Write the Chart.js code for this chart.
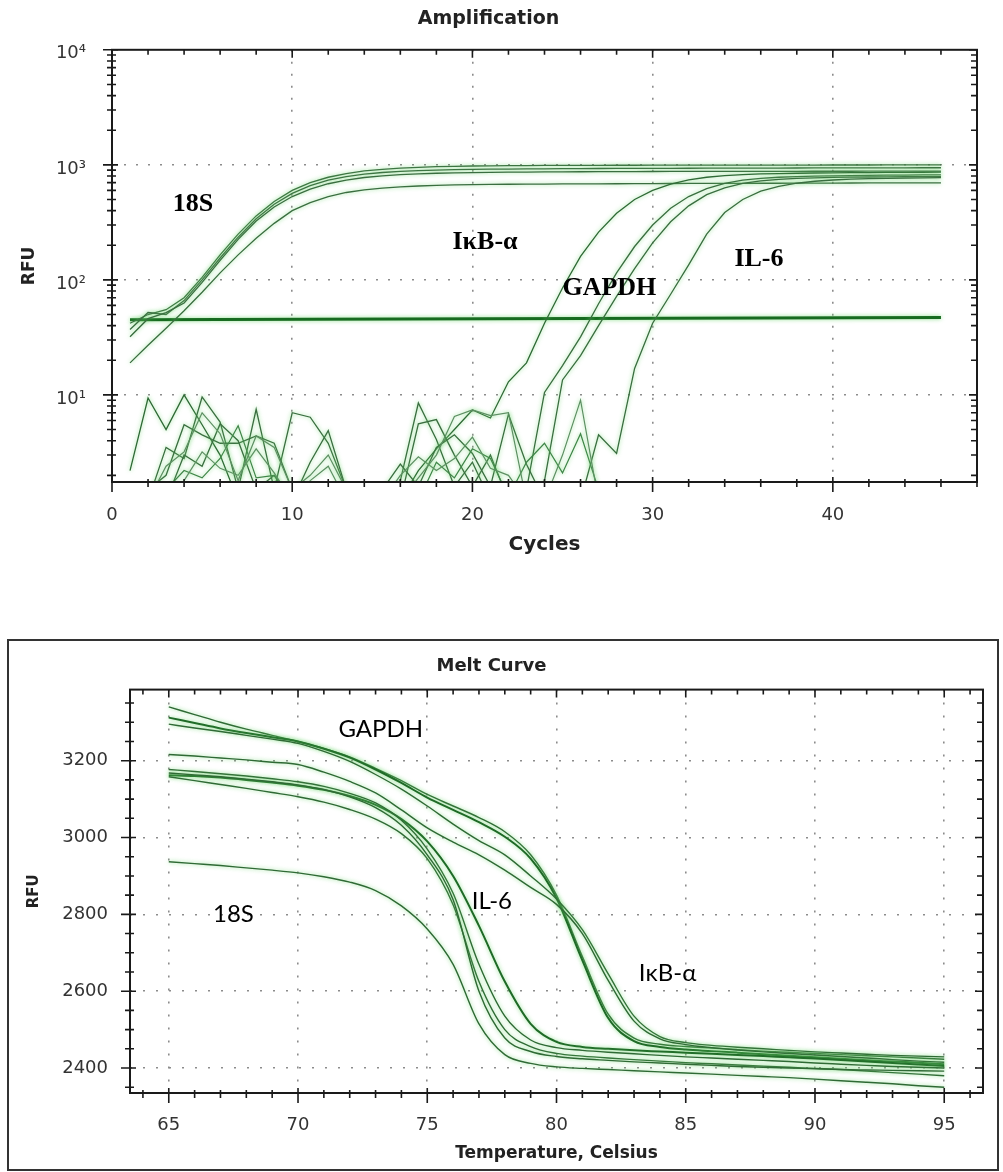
<!DOCTYPE html>
<html>
<head>
<meta charset="utf-8">
<script src="https://cdn.jsdelivr.net/npm/chart.js@4.4.0/dist/chart.umd.min.js"></script>
<style>
  body { margin: 0; background: #fff; }
  .wrap { position: relative; width: 1003px; height: 1172px; }
  #ampChart { position: absolute; left: 0; top: 0; }
  #meltBox { position: absolute; left: 7px; top: 639px; width: 992px; height: 532px; border: 2px solid #333; box-sizing: border-box; }
  #meltChart { position: absolute; left: 0; top: 640px; }
</style>
</head>
<body>
<div class="wrap">
  <canvas id="ampChart" width="1003" height="580"></canvas>
  <div id="meltBox"></div>
  <canvas id="meltChart" width="1003" height="532"></canvas>
</div>
<script>
// ---- Amplification data (RFU per cycle) ----
const cycles = [1, 2, 3, 4, 5, 6, 7, 8, 9, 10, 11, 12, 13, 14, 15, 16, 17, 18, 19, 20, 21, 22, 23,
    24, 25, 26, 27, 28, 29, 30, 31, 32, 33, 34, 35, 36, 37, 38, 39, 40, 41, 42, 43, 44, 45, 46];

// 18S wells
const s18a = [42, 50, 55, 70, 105, 165, 250, 360, 480, 600, 700, 780, 840, 885, 915, 937, 952, 963, 971, 977,
    981, 984, 986, 988, 989, 990, 991, 992, 992, 993, 993, 994, 994, 995, 995, 995, 996, 996, 996, 997,
    997, 997, 998, 998, 998, 999];
const s18b = [37, 52, 50, 66, 100, 155, 235, 340, 455, 565, 660, 735, 790, 830, 858, 877, 890, 900, 907, 912,
    916, 919, 922, 924, 926, 928, 929, 930, 931, 932, 933, 934, 935, 936, 937, 938, 938, 939, 940, 940,
    941, 941, 942, 942, 943, 943];
const s18c = [32, 46, 52, 63, 95, 148, 225, 325, 430, 530, 615, 685, 738, 776, 803, 822, 835, 845, 852, 857,
    861, 864, 866, 868, 870, 871, 872, 873, 874, 875, 876, 876, 877, 877, 878, 878, 879, 879, 880, 880,
    880, 881, 881, 881, 882, 882];
const s18d = [19, 27, 38, 54, 78, 115, 165, 230, 310, 400, 470, 530, 575, 605, 628, 644, 655, 663, 669, 673,
    676, 678, 680, 681, 682, 683, 684, 685, 686, 687, 688, 689, 690, 690, 691, 692, 692, 693, 694, 694,
    695, 696, 696, 697, 698, 698];

// IkB-a, GAPDH, IL-6 wells (baseline noise then rise)
const ikba = [2.2, 9.4, 5.0, 10, 5.5, 3.0, 1.2, 1.2, 1.2, 1.2, 1.2, 1.2, 1.2, 1.2,
    1.2, 1.2, 2.2, 3.4, 5.0, 7.4, 6.3, 13, 19, 42, 85, 160, 260, 380,
    500, 600, 680, 740, 780, 805, 822, 833, 840, 845, 849, 852, 855, 857, 859, 861, 862, 863];
const gapdhA = [1.2, 1.2, 3.5, 2.8, 9.6, 5.8, 1.5, 7.5, 1.5, 7.0, 6.4, 3.8, 1.5, 1.2,
    1.2, 1.8, 8.5, 4.1, 1.6, 2.6, 1.2, 1.2, 1.5, 10.5, 18, 32, 62, 115,
    195, 300, 420, 530, 620, 690, 735, 763, 780, 791, 798, 803, 807, 810, 813, 815, 817, 818];
const gapdhB = [1.2, 1.5, 2.0, 5.5, 4.5, 3.8, 3.8, 4.4, 3.8, 1.5, 1.2, 1.2, 1.2, 1.2,
    1.2, 1.2, 5.6, 6.1, 3.0, 1.6, 3.0, 1.2, 1.2, 1.8, 13.5, 22, 40, 72,
    125, 210, 320, 440, 550, 630, 690, 725, 748, 762, 771, 777, 781, 784, 786, 788, 789, 790];
const il6 = [1.2, 1.2, 1.2, 3.0, 2.4, 5.6, 4.0, 1.5, 2.0, 1.2, 2.6, 4.9, 1.5, 1.2,
    1.5, 2.5, 1.6, 3.5, 4.5, 3.1, 1.6, 6.8, 2.5, 1.2, 1.2, 1.2, 4.5, 3.1,
    17, 42, 75, 135, 250, 385, 500, 590, 650, 692, 720, 738, 750, 758, 764, 768, 771, 773];

// wells that stay in the noise
const noiseA = [1.2, 1.2, 2.4, 3.2, 7.0, 4.6, 1.8, 4.4, 3.5, 1.5, 2.0, 3.0, 1.5, 1.2,
    1.2, 1.2, 1.9, 3.0, 6.5, 7.4, 6.6, 7.0, 1.2, 1.2, 3.0, 9.0, 1.2];
const noiseB = [1.2, 1.2, 1.2, 1.8, 3.2, 2.3, 2.0, 3.4, 2.1, 1.2, 1.8, 2.4, 1.2, 1.2,
    1.2, 2.0, 2.9, 2.2, 2.8, 4.3, 2.3, 2.0, 1.2];
const noiseC = [1.2, 1.2, 1.5, 2.2, 1.9, 2.8, 5.4, 1.9, 2.0, 1.2, 1.2, 1.2, 1.2, 1.2,
    1.2, 1.2, 1.2, 2.6, 1.9, 3.4, 2.8, 1.3, 2.6, 3.8, 2.1, 4.6, 1.5, 1.2];

const thresholdX = [1, 46];
const thresholdY = [45, 47];

const ampXTicks = [0, 2, 4, 6, 8, 10, 12, 14, 16, 18, 20, 22, 24, 26, 28, 30, 32, 34, 36, 38, 40, 42, 44, 46, 48];
const ampYTicks = [2, 3, 4, 5, 6, 7, 8, 9, 10, 20, 30, 40, 50, 60, 70, 80, 90, 100, 200, 300, 400, 500, 600,
    700, 800, 900, 1000, 2000, 3000, 4000, 5000, 6000, 7000, 8000, 9000, 10000];
const ampYLabels = {10: '10¹', 100: '10²', 1000: '10³', 10000: '10⁴'};
const ampYGrid = [10, 100, 1000];

const ampLabels = ['18S', 'IκB-α', 'GAPDH', 'IL-6'];
const ampLabelX = [4.5, 20.7, 27.6, 35.9];
const ampLabelY = [458, 214, 84, 152];

// ---- Melt curve data (RFU per degree) ----
const temps = [65, 66, 67, 68, 69, 70, 71, 72, 73, 74, 75, 76, 77, 78, 79, 80, 81, 82, 83, 84, 85, 86,
    87, 88, 89, 90, 91, 92, 93, 94, 95];

const meltA1 = [3340, 3320, 3300, 3282, 3266, 3250, 3232, 3210, 3180, 3148, 3112, 3082, 3052, 3015, 2955, 2850,
    2690, 2540, 2478, 2462, 2456, 2452, 2448, 2444, 2441, 2438, 2435, 2432, 2429, 2426, 2423];
const meltA2 = [3312, 3298, 3284, 3272, 3261, 3250, 3231, 3208, 3177, 3142, 3104, 3072, 3040, 3002, 2945, 2842,
    2680, 2530, 2470, 2455, 2448, 2444, 2440, 2436, 2432, 2428, 2424, 2420, 2417, 2414, 2410];
const meltA3 = [3295, 3285, 3276, 3266, 3256, 3245, 3224, 3198, 3164, 3126, 3082, 3035, 2992, 2955, 2900, 2840,
    2760, 2645, 2535, 2482, 2466, 2459, 2454, 2450, 2446, 2442, 2439, 2436, 2433, 2431, 2429];
const meltA4 = [3216, 3212, 3207, 3202, 3196, 3190, 3170, 3146, 3116, 3072, 3025, 2988, 2955, 2915, 2870, 2826,
    2750, 2628, 2522, 2476, 2461, 2453, 2447, 2442, 2438, 2434, 2430, 2426, 2422, 2418, 2415];
const meltL1 = [3162, 3160, 3156, 3150, 3143, 3135, 3124, 3108, 3085, 3048, 2990, 2900, 2770, 2625, 2515, 2468,
    2455, 2450, 2446, 2443, 2440, 2437, 2434, 2431, 2428, 2425, 2421, 2417, 2413, 2409, 2405];
const meltL2 = [3177, 3172, 3166, 3160, 3153, 3145, 3133, 3115, 3090, 3045, 2970, 2855, 2670, 2535, 2473, 2453,
    2446, 2441, 2437, 2433, 2429, 2426, 2423, 2420, 2417, 2413, 2410, 2407, 2404, 2402, 2400];
const meltL3 = [3158, 3148, 3138, 3128, 3117, 3106, 3092, 3073, 3048, 3010, 2945, 2825, 2625, 2500, 2456, 2438,
    2431, 2426, 2422, 2418, 2414, 2411, 2408, 2405, 2402, 2399, 2396, 2392, 2388, 2384, 2380];
const meltL4 = [3168, 3163, 3158, 3152, 3145, 3137, 3125, 3106, 3078, 3032, 2955, 2838, 2600, 2478, 2443, 2430,
    2424, 2420, 2416, 2413, 2410, 2407, 2404, 2402, 2400, 2398, 2396, 2395, 2394, 2393, 2392];
const melt18S = [2937, 2932, 2927, 2921, 2915, 2908, 2898, 2884, 2862, 2822, 2762, 2670, 2515, 2435, 2412, 2403,
    2399, 2396, 2393, 2390, 2387, 2384, 2381, 2378, 2375, 2371, 2367, 2363, 2359, 2354, 2350];

const meltXTicks = [64, 65, 66, 67, 68, 69, 70, 71, 72, 73, 74, 75, 76, 77, 78, 79, 80, 81, 82, 83, 84, 85,
    86, 87, 88, 89, 90, 91, 92, 93, 94, 95, 96];
const meltYTicks = [2350, 2400, 2450, 2500, 2550, 2600, 2650, 2700, 2750, 2800, 2850, 2900, 2950, 3000,
    3050, 3100, 3150, 3200, 3250, 3300, 3350];

const meltLabels = ['GAPDH', '18S', 'IL-6', 'IκB-α'];
const meltLabelX = [73.2, 67.5, 77.5, 84.3];
const meltLabelY = [3283, 2801, 2835, 2647];

// ---- helpers ----
const pts = (xs, ys) => ys.map((v, i) => ({x: xs[i], y: v}));
const tickFont = {family: 'DejaVu Sans', size: 18};
const inArea = (list) => (c) => (c.tick && list.includes(c.tick.value)) ? '#8c8c8c' : 'rgba(0,0,0,0)';

// soft green halo round the traces
const glow = {
    id: 'glow',
    beforeDatasetsDraw(chart) {
        chart.ctx.save();
        chart.ctx.shadowColor = 'rgba(110, 215, 110, 0.8)';
        chart.ctx.shadowBlur = 4;
    },
    afterDatasetsDraw(chart) {
        chart.ctx.restore();
    }
};

// box round the plot with tick marks on all four sides
function frame(xMajor, yMajor) {
    return {
        id: 'frame',
        afterDraw(chart) {
            const {ctx, chartArea: a, scales: {x, y}} = chart;
            ctx.save();
            ctx.strokeStyle = '#1a1a1a';
            ctx.lineWidth = 2;
            ctx.strokeRect(a.left, a.top, a.right - a.left, a.bottom - a.top);
            ctx.lineWidth = 1.6;
            ctx.beginPath();
            x.ticks.forEach(t => {
                const px = x.getPixelForValue(t.value);
                const m = xMajor(t.value);
                ctx.moveTo(px, a.bottom - (m ? 5 : 3));
                ctx.lineTo(px, a.bottom + (m ? 10 : 5));
                ctx.moveTo(px, a.top);
                ctx.lineTo(px, a.top + (m ? 8 : 5));
            });
            y.ticks.forEach(t => {
                const py = y.getPixelForValue(t.value);
                const m = yMajor(t.value);
                ctx.moveTo(a.left - (m ? 9 : 5), py);
                ctx.lineTo(a.left + (m ? 6 : 4), py);
                ctx.moveTo(a.right, py);
                ctx.lineTo(a.right - (m ? 8 : 6), py);
            });
            ctx.stroke();
            ctx.restore();
        }
    };
}

function textLabels(texts, xs, ys, font) {
    return {
        id: 'textLabels',
        afterDraw(chart) {
            const {ctx, scales: {x, y}} = chart;
            ctx.save();
            ctx.font = font;
            ctx.fillStyle = '#000';
            ctx.textAlign = 'center';
            ctx.textBaseline = 'middle';
            texts.forEach((t, i) => ctx.fillText(t, x.getPixelForValue(xs[i]), y.getPixelForValue(ys[i])));
            ctx.restore();
        }
    };
}

function trace(data, color, width) {
    return {data: data, borderColor: color, borderWidth: width, pointRadius: 0, fill: false};
}

// ---- Amplification chart ----
new Chart(document.getElementById('ampChart'), {
    type: 'line',
    data: {
        datasets: [
            trace(pts(cycles, noiseA), '#5d8f63', 1.2),
            trace(pts(cycles, noiseB), '#5d8f63', 1.2),
            trace(pts(cycles, noiseC), '#3f8548', 1.2),
            trace(pts(cycles, il6), '#3a6e40', 1.3),
            trace(pts(cycles, gapdhB), '#3a6e40', 1.3),
            trace(pts(cycles, gapdhA), '#3a6e40', 1.3),
            trace(pts(cycles, ikba), '#2f6a36', 1.3),
            trace(pts(cycles, s18d), '#3a6e40', 1.3),
            trace(pts(cycles, s18c), '#3a6e40', 1.3),
            trace(pts(cycles, s18b), '#3a6e40', 1.3),
            trace(pts(cycles, s18a), '#3a6e40', 1.3),
            trace(pts(thresholdX, thresholdY), '#176b20', 3)
        ]
    },
    options: {
        responsive: false,
        animation: false,
        devicePixelRatio: 1,
        events: [],
        layout: {padding: {left: 0, right: 26, top: 0, bottom: 0}},
        elements: {line: {tension: 0}},
        plugins: {
            legend: {display: false},
            tooltip: {enabled: false},
            title: {
                display: true,
                text: 'Amplification',
                color: '#222',
                font: {family: 'DejaVu Sans', size: 19, weight: 'bold'},
                padding: {top: 8, bottom: 19}
            }
        },
        scales: {
            x: {
                type: 'linear',
                min: 0,
                max: 48,
                afterFit: s => { s.height = 98; },
                afterBuildTicks: s => { s.ticks = ampXTicks.map(v => ({value: v})); },
                grid: {
                    color: inArea([10, 20, 30, 40]),
                    lineWidth: 1.6,
                    drawTicks: false
                },
                border: {display: false, dash: [2, 10]},
                ticks: {
                    autoSkip: false,
                    maxRotation: 0,
                    padding: 23,
                    color: '#333',
                    font: tickFont,
                    callback: v => (v % 10 === 0 ? String(v) : '')
                },
                title: {
                    display: true,
                    text: 'Cycles',
                    color: '#222',
                    font: {family: 'DejaVu Sans', size: 20, weight: 'bold'},
                    padding: {top: 0, bottom: 23}
                }
            },
            y: {
                type: 'logarithmic',
                min: 1.75,
                max: 10000,
                afterFit: s => { s.width = 112; },
                afterBuildTicks: s => { s.ticks = ampYTicks.map(v => ({value: v})); },
                grid: {
                    color: inArea(ampYGrid),
                    lineWidth: 1.6,
                    drawTicks: false
                },
                border: {display: false, dash: [2, 10]},
                ticks: {
                    autoSkip: false,
                    padding: 26,
                    labelOffset: 4,
                    color: '#333',
                    font: tickFont,
                    callback: v => ampYLabels[v] || ''
                },
                title: {
                    display: true,
                    text: 'RFU',
                    color: '#222',
                    font: {family: 'DejaVu Sans', size: 17, weight: 'bold'},
                    padding: {top: 19, bottom: 0}
                }
            }
        }
    },
    plugins: [
        glow,
        frame(v => v % 10 === 0, v => v in ampYLabels),
        textLabels(ampLabels, ampLabelX, ampLabelY, 'bold 26px "Liberation Serif"')
    ]
});

// ---- Melt curve chart ----
new Chart(document.getElementById('meltChart'), {
    type: 'line',
    data: {
        datasets: [
            trace(pts(temps, melt18S), '#2f6a35', 1.4),
            trace(pts(temps, meltL4), '#2f6a35', 1.4),
            trace(pts(temps, meltL3), '#2f6a35', 1.4),
            trace(pts(temps, meltL2), '#2f6a35', 1.4),
            trace(pts(temps, meltL1), '#1f6a27', 2),
            trace(pts(temps, meltA4), '#2f6a35', 1.4),
            trace(pts(temps, meltA3), '#2f6a35', 1.4),
            trace(pts(temps, meltA2), '#1f6a27', 2),
            trace(pts(temps, meltA1), '#2f6a35', 1.4)
        ]
    },
    options: {
        responsive: false,
        animation: false,
        devicePixelRatio: 1,
        events: [],
        layout: {padding: {left: 0, right: 20, top: 0, bottom: 0}},
        elements: {line: {cubicInterpolationMode: 'monotone'}},
        plugins: {
            legend: {display: false},
            tooltip: {enabled: false},
            title: {
                display: true,
                text: 'Melt Curve',
                color: '#222',
                font: {family: 'DejaVu Sans', size: 18, weight: 'bold'},
                padding: {top: 16, bottom: 12}
            }
        },
        scales: {
            x: {
                type: 'linear',
                min: 63.5,
                max: 96.5,
                afterFit: s => { s.height = 79; },
                afterBuildTicks: s => { s.ticks = meltXTicks.map(v => ({value: v})); },
                grid: {
                    color: inArea([65, 70, 75, 80, 85, 90, 95]),
                    lineWidth: 1.6,
                    drawTicks: false
                },
                border: {display: false, dash: [2, 11]},
                ticks: {
                    autoSkip: false,
                    maxRotation: 0,
                    padding: 22,
                    color: '#333',
                    font: tickFont,
                    callback: v => (v % 5 === 0 ? String(v) : '')
                },
                title: {
                    display: true,
                    text: 'Temperature, Celsius',
                    color: '#222',
                    font: {family: 'DejaVu Sans', size: 17, weight: 'bold'},
                    padding: {top: 0, bottom: 8}
                }
            },
            y: {
                type: 'linear',
                min: 2335,
                max: 3385,
                afterFit: s => { s.width = 130; },
                afterBuildTicks: s => { s.ticks = meltYTicks.map(v => ({value: v})); },
                grid: {
                    color: inArea([2400, 2600, 2800, 3000, 3200]),
                    lineWidth: 1.6,
                    drawTicks: false
                },
                border: {display: false, dash: [2, 11]},
                ticks: {
                    autoSkip: false,
                    padding: 22,
                    color: '#333',
                    font: tickFont,
                    callback: v => (v % 200 === 0 ? String(v) : '')
                },
                title: {
                    display: true,
                    text: 'RFU',
                    color: '#222',
                    font: {family: 'DejaVu Sans', size: 15, weight: 'bold'},
                    padding: {top: 25, bottom: 0}
                }
            }
        }
    },
    plugins: [
        glow,
        frame(v => v % 5 === 0, v => v % 200 === 0),
        textLabels(meltLabels, meltLabelX, meltLabelY, '24px Lato')
    ]
});
</script>
</body>
</html>
